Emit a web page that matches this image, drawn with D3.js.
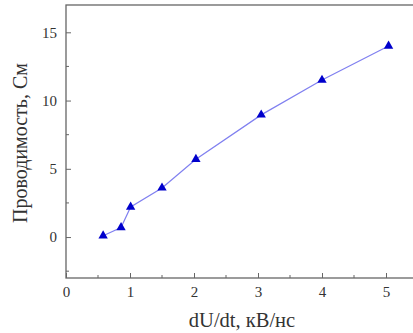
<!DOCTYPE html>
<html>
<head>
<meta charset="utf-8">
<script src="https://cdn.jsdelivr.net/npm/d3@7"></script>
<style>
  body { margin: 0; background: #fff; }
  svg { display: block; }
</style>
</head>
<body>
<div id="chart"></div>
<script>
const dUdt = [0.58, 0.86, 1.01, 1.5, 2.03, 3.05, 4.0, 5.04];
const conductance = [0.1, 0.7, 2.2, 3.6, 5.7, 8.95, 11.5, 14.0];
const xTicks = [0, 1, 2, 3, 4, 5];
const yTicks = [0, 5, 10, 15];

const width = 413, height = 333;
const margin = {top: 5, right: -5, bottom: 55, left: 66};
const w = width - margin.left - margin.right;
const h = height - margin.top - margin.bottom;

const svg = d3.select("#chart").append("svg")
  .attr("width", width)
  .attr("height", height)
  .style("font-family", "'Liberation Serif', 'Times New Roman', serif");

const g = svg.append("g")
  .attr("transform", `translate(${margin.left}, ${margin.top})`);

const x = d3.scaleLinear().domain([0, 5.5]).range([0, w]);
const y = d3.scaleLinear().domain([-3, 17]).range([h, 0]);

const axisColor = "#666";

// frame
g.append("rect")
  .attr("width", w).attr("height", h)
  .attr("fill", "none")
  .attr("stroke", axisColor)
  .attr("stroke-width", 1.3);

// minor ticks
const xMinor = d3.range(0.5, 5.5, 1);
g.append("g").selectAll("line").data(xMinor).enter().append("line")
  .attr("x1", d => x(d)).attr("x2", d => x(d))
  .attr("y1", h).attr("y2", h - 3)
  .attr("stroke", axisColor);
const yMinor = [-2.5, 2.5, 7.5, 12.5];
g.append("g").selectAll("line").data(yMinor).enter().append("line")
  .attr("y1", d => y(d)).attr("y2", d => y(d))
  .attr("x1", 0).attr("x2", 3)
  .attr("stroke", axisColor);

const xAxis = g.append("g")
  .attr("transform", `translate(0, ${h})`)
  .call(d3.axisBottom(x).tickValues(xTicks).tickFormat(d3.format("d"))
    .tickSizeInner(-5).tickSizeOuter(0).tickPadding(8));
const yAxis = g.append("g")
  .call(d3.axisLeft(y).tickValues(yTicks).tickFormat(d3.format("d"))
    .tickSizeInner(-5).tickSizeOuter(0).tickPadding(9));

[xAxis, yAxis].forEach(a => {
  a.select(".domain").remove();
  a.selectAll("line").attr("stroke", axisColor);
  a.selectAll("text")
    .attr("fill", "#333")
    .style("font-size", "15px")
    .style("font-family", "'Liberation Serif', serif");
});

const line = d3.line()
  .x((d, i) => x(dUdt[i]))
  .y(d => y(d));

g.append("path")
  .datum(conductance)
  .attr("fill", "none")
  .attr("stroke", "#8080f0")
  .attr("stroke-width", 1.2)
  .attr("d", line);

const tri = d3.symbol().type(d3.symbolTriangle).size(38);
g.append("g").selectAll("path").data(conductance).enter().append("path")
  .attr("transform", (d, i) => `translate(${x(dUdt[i])}, ${y(d)})`)
  .attr("d", tri)
  .attr("fill", "#0000cc");

svg.append("text")
  .attr("x", 242).attr("y", 327)
  .attr("text-anchor", "middle")
  .attr("fill", "#333")
  .style("font-size", "20.5px")
  .text("dU/dt, кВ/нс");

svg.append("text")
  .attr("transform", "translate(27, 143) rotate(-90)")
  .attr("text-anchor", "middle")
  .attr("fill", "#333")
  .style("font-size", "20px")
  .text("Проводимость, См");
</script>
</body>
</html>
